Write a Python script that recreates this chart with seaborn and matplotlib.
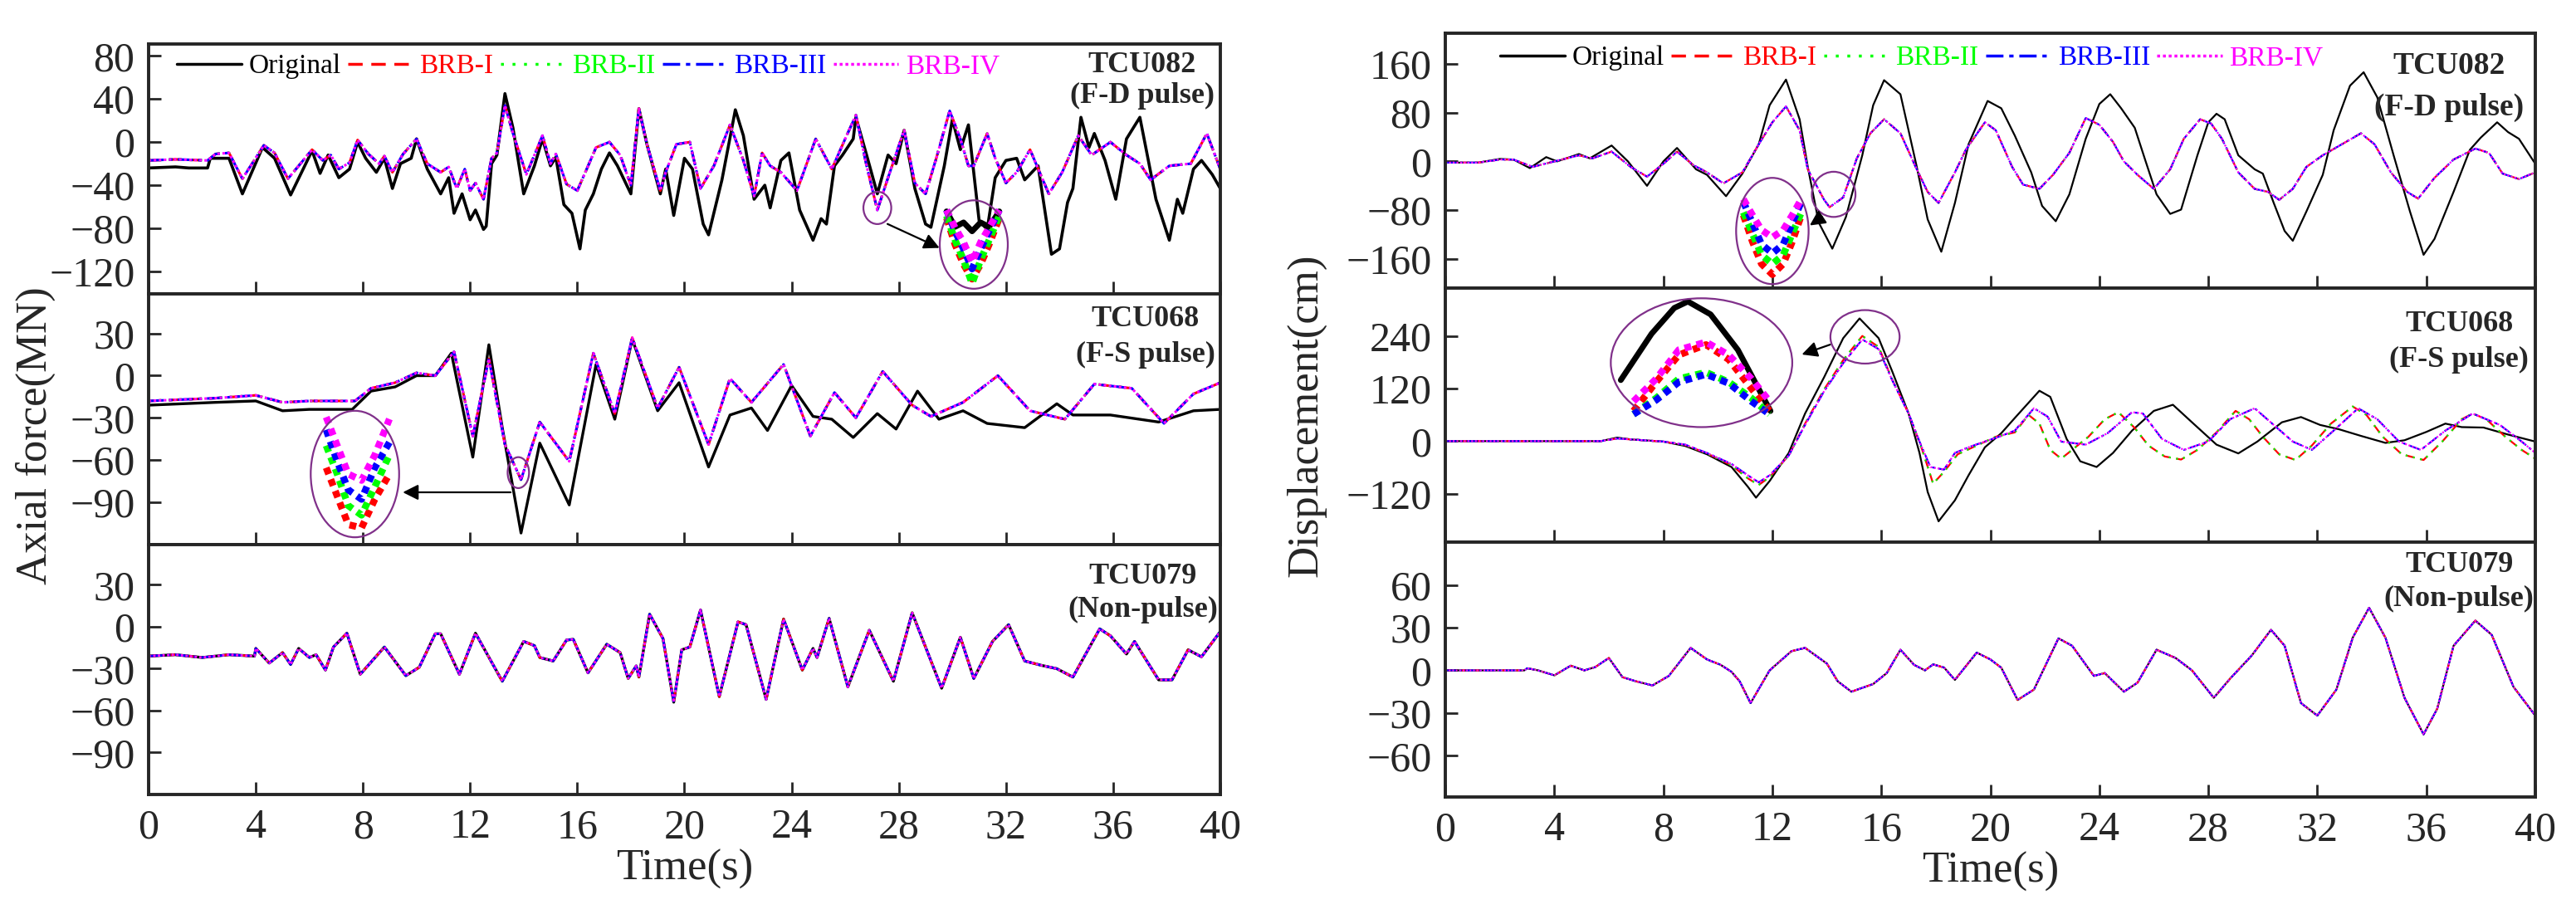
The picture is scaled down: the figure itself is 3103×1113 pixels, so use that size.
import matplotlib
matplotlib.use("Agg")
import matplotlib.pyplot as plt
from matplotlib.patches import Ellipse
import seaborn as sns

# ---------------- data ----------------
# left column: axial force (MN)
lt_orig_t = [0, 1, 1.5, 2.2, 2.3, 3.0, 3.5, 4.25, 4.7, 5.3, 6.1, 6.4, 6.7, 7.1, 7.5, 7.8, 8.1, 8.5, 8.8, 9.1,
             9.4, 9.8, 10.0, 10.4, 10.9, 11.2, 11.4, 11.7, 12.0, 12.2, 12.5, 12.6, 12.8, 13.0, 13.3, 13.6, 14.0,
             14.4, 14.7, 15.0, 15.2, 15.5, 15.8, 16.1, 16.3, 16.6, 16.9, 17.2, 17.5, 18.0, 18.3, 18.6, 19.1,
             19.3, 19.6, 20.0, 20.3, 20.7, 20.9, 21.4, 21.9, 22.2, 22.6, 23.0, 23.2, 23.6, 23.9, 24.3, 24.8,
             25.1, 25.3, 25.6, 25.9, 26.3, 26.4, 26.8, 27.2, 27.6, 27.9, 28.2, 28.6, 29.0, 29.2, 29.7, 30.0,
             30.3, 30.6, 31.0, 31.3, 31.6, 32.0, 32.4, 32.7, 33.2, 33.7, 34.0, 34.3, 34.5, 34.8, 35.1, 35.3,
             35.7, 36.1, 36.5, 37.0, 37.6, 38.1, 38.4, 38.6, 39.0, 39.3, 39.7, 40]
lt_orig_v = [-24, -23, -24, -24, -15, -15, -48, -5, -15, -49, -8, -29, -12, -33, -25, 0, -15, -28, -15, -43,
             -20, -15, 3, -25, -48, -33, -66, -48, -72, -63, -81, -78, -20, -12, 45, 13, -48,
             -22, 3, -22, -14, -58, -66, -99, -63, -48, -25, -10, -22, -48, 31, -2, -48,
             -25, -68, -15, -25, -76, -86, -35, 30, 6, -53, -40, -61, -17, -10, -63, -91,
             -71, -76, -22, -12, 3, 23, -12, -48, -12, -20, 11, -43, -76, -79, -22, 21,
             -7, 16, -73, -81, -33, -17, -15, -35, -22, -104, -99, -56, -43, 23, -5, 8,
             -17, -53, 3, 23, -53, -91, -53, -66, -25, -17, -30, -43]
lt_brb_t = [0, 1, 2.2, 2.5, 3.0, 3.5, 4.3, 4.7, 5.2, 6.1, 6.5, 6.8, 7.1, 7.5, 7.8, 8.2, 8.6, 8.8, 9.1, 9.5,
            10.0, 10.4, 10.9, 11.2, 11.5, 11.8, 12.0, 12.2, 12.5, 12.8, 13.0, 13.3, 13.6, 14.1, 14.4, 14.7,
            15.0, 15.2, 15.6, 16.0, 16.3, 16.7, 17.2, 17.6, 18.0, 18.3, 18.6, 19.1, 19.3, 19.7, 20.2, 20.6,
            21.1, 21.7, 22.2, 22.6, 22.9, 23.2, 23.6, 24.2, 24.9, 25.5, 26.0, 26.4, 26.8, 27.2, 27.6, 28.2,
            28.6, 29.0, 29.4, 29.9, 30.3, 30.6, 30.8, 31.3, 31.6, 32.0, 32.4, 32.9, 33.6, 34.1, 34.7, 35.2,
            35.9, 36.5, 37.0, 37.4, 38.1, 38.9, 39.5, 40]
lt_brb_v = [-17, -16, -17, -11, -10, -34, -3, -10, -34, -7, -17, -12, -25, -19, 2, -11, -20, -13, -28, -11,
            3, -20, -28, -23, -43, -25, -45, -38, -53, -15, -10, 34, 8, -30, -12, 6,
            -20, -11, -39, -45, -28, -5, 0, -12, -40, 31, -2, -45, -28, -2, 0, -43,
            -22, 16, -17, -50, -10, -22, -28, -45, 3, -25, 3, 25, -22, -63, -33, 11,
            -38, -48, -15, 29, 3, -22, -22, 8, -15, -38, -28, -7, -48, -28, 6, -12,
            0, -12, -20, -35, -22, -20, 8, -25]

lm_orig_t = [0, 2.5, 4, 5, 6, 7.6, 8.3, 9.2, 10, 10.7, 11.3, 12.1, 12.7, 13.2, 13.9, 14.6, 15.7, 16.7, 17.4,
             18.05, 19, 19.8, 20.9, 21.7, 22.5, 23.1, 24, 24.8, 25.5, 26.3, 27.2, 27.9, 28.7, 29.5, 30.4,
             31.3, 32.7, 33.9, 34.5, 35.9, 37.7, 39, 40]
lm_orig_v = [-21, -19, -18, -25, -24, -24, -11, -8, 0, 0, 16, -58, 22, -37, -112, -48, -92, 8, -31,
             26, -25, -5, -65, -28, -23, -39, -7, -29, -31, -44, -27, -38, -11, -31, -25,
             -34, -37, -20, -28, -28, -33, -25, -24]
lm_brb_t = [0, 2.5, 4, 5, 6, 7.7, 8.3, 9.2, 10, 10.7, 11.4, 12.1, 12.7, 13.3, 13.9, 14.6, 15.7, 16.6, 17.4,
            18.05, 19, 19.8, 20.9, 21.7, 22.5, 23.7, 24.7, 25.6, 26.4, 27.4, 28.5, 29.2, 30.4, 31.7, 32.9,
            34.2, 35.3, 36.7, 37.9, 39, 40]
lm_brb_v = [-18, -16, -14, -19, -18, -18, -9, -5, 2, 0, 17, -43, 12, -49, -74, -33, -61, 16, -27,
            27, -23, 6, -49, -2, -19, 8, -43, -12, -30, 3, -21, -29, -19, 0, -25,
            -31, -6, -9, -34, -13, -5]

lb_t = [0, 1, 2, 3, 3.95, 4, 4.5, 5.0, 5.3, 5.6, 6.0, 6.25, 6.6, 6.9, 7.4, 7.9, 8.8, 9.6, 10.1, 10.7, 10.9,
        11.6, 12.2, 13.2, 14.0, 14.4, 14.6, 15.1, 15.6, 15.85, 16.4, 17.1, 17.6, 17.9, 18.2, 18.3, 18.7,
        19.2, 19.6, 19.9, 20.2, 20.6, 21.3, 22.0, 22.3, 23.05, 23.7, 24.4, 24.8, 24.95, 25.4, 26.1, 26.9,
        27.8, 28.5, 29.6, 30.3, 30.8, 31.5, 32.1, 32.7, 33.3, 33.9, 34.5, 35.5, 35.9, 36.5, 36.8, 37.7,
        38.2, 38.8, 39.3, 40]
lb_v = [-21, -20, -22, -20, -21, -15.5, -26, -18.5, -27, -15.5, -22, -20, -31, -14.5, -4.6, -34, -14.5, -35,
        -29, -5, -5, -34, -4.6, -39, -10.5, -13.5, -22, -24.5, -9.5, -9, -33, -12.5, -18.5, -37, -28, -36, 9,
        -8.5, -54, -16.5, -14.5, 12, -50, 3.5, 1.5, -52, 5.5, -31, -15.5, -22, 6, -43, -2.5,
        -39, 10, -44, -7.5, -37, -10.5, 1.5, -24.5, -27.5, -30, -36, -1.5, -6.5, -19.5, -10.5, -38,
        -38, -16.5, -21.5, -3.5]

# right column: displacement (cm)
rt_orig_t = [0, 1.2, 2.0, 2.5, 3.1, 3.7, 4.1, 4.9, 5.3, 6.1, 6.7, 7.4, 8.0, 8.5, 9.2, 9.6, 10.3, 10.9, 11.5,
             11.9, 12.5, 13.0, 13.3, 13.7, 14.2, 14.7, 15.3, 15.7, 16.1, 16.7, 17.3, 17.7, 18.2, 18.7, 19.2,
             19.9, 20.4, 20.9, 21.5, 21.9, 22.4, 22.9, 23.5, 24.0, 24.4, 24.8, 25.3, 25.7, 26.1, 26.6, 27.0,
             27.6, 28.0, 28.3, 28.6, 29.1, 29.7, 30.0, 30.4, 30.8, 31.1, 31.6, 32.2, 32.6, 33.2, 33.7, 34.2,
             34.8, 35.4, 35.9, 36.3, 37.0, 37.6, 38.0, 38.6, 39.0, 39.4, 40]
rt_orig_v = [-2, -2, 4, 3, -11, 7, 0, 12, 5, 26, 0, -40, 0, 22, -13, -22, -57, -20, 28,
             92, 134, 69, -9, -100, -143, -91, 10, 92, 133, 110, -9, -95, -148, -68, 28,
             99, 87, 42, -18, -73, -98, -54, 37, 94, 110, 87, 55, 0, -54, -86, -79,
             10, 64, 78, 69, 10, -13, -20, -68, -114, -130, -82, -22, 51, 124, 146, 105,
             10, -82, -153, -127, -50, 19, 39, 64, 48, 37, -4]
rt_brb_t = [0, 1.2, 2.0, 2.5, 3.2, 4.0, 4.9, 5.4, 6.1, 6.8, 7.4, 8.0, 8.5, 9.1, 9.6, 10.2, 10.9, 11.5, 12.0,
            12.5, 13.0, 13.3, 13.9, 14.1, 14.6, 15.1, 15.6, 16.1, 16.7, 17.3, 17.7, 18.1, 18.7, 19.1, 19.8,
            20.2, 20.8, 21.2, 21.8, 22.3, 22.9, 23.5, 24.0, 24.5, 24.9, 25.4, 26.0, 26.6, 27.1, 27.7, 28.1,
            28.5, 29.1, 29.7, 30.2, 30.6, 31.1, 31.6, 32.2, 32.9, 33.6, 34.1, 34.7, 35.3, 35.7, 36.3, 37.0,
            37.8, 38.3, 38.8, 39.4, 40]
rt_brb_v = [-2, -2, 3, 3, -9, 0, 10, 5, 16, -9, -25, -4, 16, -6, -18, -36, -18, 28, 64,
            90, 51, -13, -63, -75, -59, 5, 46, 69, 46, -13, -50, -68, -18, 19, 64,
            51, -9, -38, -45, -22, 14, 71, 60, 32, 0, -22, -45, -13, 37, 69, 62,
            37, -18, -45, -50, -63, -45, -9, 10, 28, 46, 28, -18, -50, -61, -27, 3,
            21, 14, -20, -29, -18]

rm_orig_t = [0, 3, 5.7, 6.3, 6.8, 8.0, 8.8, 9.6, 10.5, 11.1, 11.4, 11.9, 12.6, 13.2, 13.9, 14.6, 15.2, 15.9,
             16.4, 17.0, 17.4, 17.7, 18.1, 18.7, 19.2, 19.8, 20.4, 20.9, 21.8, 22.2, 22.8, 23.3, 23.9, 24.5,
             25.2, 26.0, 26.7, 27.4, 28.3, 29.1, 29.8, 30.7, 31.4, 32.1, 32.8, 33.6, 34.5, 35.2, 36.0, 36.7,
             37.3, 38.1, 39.0, 40]
rm_orig_v = [0, 0, 0, 8, 4, -1, -11, -30, -59, -104, -129, -91, -27, 63, 146, 235, 280, 235,
             159, 63, -27, -116, -183, -135, -78, -14, 18, 53, 115, 101, 5, -46, -59, -27,
             24, 69, 83, 43, -8, -28, -1, 43, 55, 37, 27, 12, -4, 2, 21, 40,
             32, 31, 15, -1]
rm_brb12_t = [0, 3, 5.7, 6.3, 8.0, 8.8, 9.6, 10.5, 11.1, 11.5, 11.9, 12.6, 13.2, 13.9, 14.6, 15.3, 15.9, 16.4,
              17.0, 17.5, 17.9, 18.3, 18.8, 19.5, 20.2, 20.9, 21.4, 21.8, 22.2, 22.6, 23.0, 23.6, 24.2, 24.7,
              25.3, 25.8, 26.4, 27.0, 27.6, 28.3, 29.0, 29.5, 30.0, 30.6, 31.2, 31.8, 32.5, 33.3, 33.8, 34.4,
              35.1, 35.9, 36.6, 37.3, 37.7, 38.2, 38.9, 39.5, 40]
rm_brb12_v = [0, 0, 0, 6, -1, -9, -28, -55, -85, -100, -82, -33, 40, 118, 185, 240, 215, 140,
              63, -20, -97, -70, -30, -10, 10, 20, 60, 40, -20, -40, -20, 10, 50, 66,
              30, -10, -35, -42, -20, 20, 69, 50, 10, -30, -43, -10, 40, 79, 60, 10,
              -30, -43, 0, 50, 63, 50, 10, -20, -40]
rm_brb34_t = [0, 3, 5.7, 6.3, 8.0, 8.8, 9.6, 10.5, 11.1, 11.5, 11.9, 12.6, 13.2, 13.9, 14.6, 15.3, 15.9, 16.4,
              17.0, 17.4, 17.8, 18.3, 18.7, 19.2, 19.8, 20.4, 20.9, 21.6, 22.1, 22.6, 23.5, 24.3, 25.2, 25.6,
              26.3, 27.1, 28.0, 28.8, 29.7, 30.4, 31.1, 31.8, 32.6, 33.5, 34.2, 35.0, 35.8, 36.7, 37.7, 38.7,
              39.5, 40]
rm_brb34_v = [0, 0, 0, 6, -1, -8, -27, -52, -78, -94, -78, -33, 37, 114, 178, 232, 210, 139,
              63, -1, -59, -65, -27, -14, -1, 12, 24, 75, 56, -1, -8, 18, 66, 63,
              5, -20, -1, 50, 75, 37, -1, -20, 24, 75, 50, -1, -20, 24, 63, 37,
              -1, -27]

rb_t = [0, 1.5, 2.9, 3.0, 3.4, 4.0, 4.6, 5.1, 5.5, 6.0, 6.5, 7.0, 7.6, 8.2, 9.0, 9.6, 10.1, 10.5, 10.8, 11.2,
        11.9, 12.7, 13.2, 14.0, 14.4, 14.9, 15.7, 16.2, 16.7, 17.2, 17.6, 17.9, 18.3, 18.7, 19.5, 20.0, 20.4,
        21.0, 21.6, 22.5, 23.0, 23.8, 24.2, 24.9, 25.4, 26.1, 26.8, 27.4, 28.2, 28.8, 29.6, 30.3, 30.8, 31.4,
        32.0, 32.7, 33.3, 33.9, 34.5, 35.2, 35.9, 36.4, 37.0, 37.8, 38.4, 39.2, 40]
rb_v = [0, 0, 0, 1.5, 0, -3.5, 3.3, 0, 2.3, 8.7, -4.8, -7.7, -10.6, -3.9, 15.8, 7.7, 3.9, -1, -7.7, -23,
        0, 13.5, 15.8, 4.8, -7.7, -15, -9.6, -1.9, 14.5, 3.9, 0, 4.2, 2, -6.7, 12.5, 7.7, 1.9,
        -20.8, -13.5, 22.5, 17.3, -3.9, -1.9, -15, -8.7, 14.5, 8.7, 0, -19.3, -5.8, 10.6, 28.5, 17.3, -23,
        -31.8, -13.5, 23, 44, 23, -19.3, -45, -27, 17.3, 35, 25, -11.6, -31.8]

# magnified views inside the big ellipses (local -1..1 coordinates)
insA_x = [-0.8, -0.55, -0.3, -0.05, 0.2, 0.45, 0.75]
insA_orig = [0.75, 0.4, 0.5, 0.3, 0.5, 0.4, 0.75]
insA_brb = {"BRB-I": [0.6, 0.0, -0.45, -0.78, -0.45, 0.0, 0.6],
            "BRB-II": [0.65, 0.1, -0.35, -0.88, -0.35, 0.1, 0.65],
            "BRB-III": [0.78, 0.3, -0.1, -0.55, -0.1, 0.3, 0.78],
            "BRB-IV": [0.78, 0.38, 0.05, -0.4, 0.05, 0.38, 0.78]}
insB_x = [-0.65, -0.4, -0.15, 0.15, 0.45, 0.78]
insB_brb = {"BRB-I": [0.1, -0.35, -0.8, -0.85, -0.4, 0.0],
            "BRB-II": [0.45, 0.0, -0.5, -0.65, -0.2, 0.3],
            "BRB-III": [0.7, 0.2, -0.25, -0.4, 0.1, 0.5],
            "BRB-IV": [0.9, 0.45, 0.0, -0.1, 0.3, 0.87]}
insC_x = [-0.8, -0.55, -0.3, 0.0, 0.3, 0.55, 0.8]
insC_brb = {"BRB-I": [0.3, -0.2, -0.62, -0.82, -0.62, -0.2, 0.3],
            "BRB-II": [0.35, -0.05, -0.45, -0.62, -0.45, -0.05, 0.35],
            "BRB-III": [0.55, 0.15, -0.25, -0.42, -0.25, 0.15, 0.55],
            "BRB-IV": [0.6, 0.3, 0.02, -0.12, 0.02, 0.3, 0.6]}
insD_orig_x = [-0.89, -0.55, -0.3, -0.15, 0.1, 0.4, 0.76]
insD_orig = [-0.27, 0.45, 0.85, 0.95, 0.75, 0.2, -0.75]
insD_x = [-0.75, -0.5, -0.25, 0.05, 0.3, 0.55, 0.75]
insD_brb = {"BRB-I": [-0.75, -0.3, 0.12, 0.28, 0.05, -0.4, -0.75],
            "BRB-II": [-0.8, -0.55, -0.25, -0.15, -0.3, -0.55, -0.8],
            "BRB-III": [-0.8, -0.58, -0.3, -0.18, -0.32, -0.6, -0.8],
            "BRB-IV": [-0.6, -0.25, 0.2, 0.32, 0.12, -0.25, -0.6]}

names = ["Original", "BRB-I", "BRB-II", "BRB-III", "BRB-IV"]
colors = {"Original": "black", "BRB-I": "#ff0000", "BRB-II": "#00ff00", "BRB-III": "#0000ff", "BRB-IV": "#ff00ff"}
styles = {"Original": "-", "BRB-I": (0, (5, 3)), "BRB-II": (0, (1, 3)),
          "BRB-III": (0, (6, 2, 1.5, 2)), "BRB-IV": (0, (1, 1))}

# ---------------- plotting ----------------
sns.set_style("ticks")
plt.rcParams["font.family"] = ["Liberation Serif", "DejaVu Serif"]
plt.rcParams["axes.unicode_minus"] = True
ELL = "#80308a"

fig = plt.figure(figsize=(31.03, 11.13), dpi=100)
gl = fig.add_gridspec(3, 1, left=0.0577, right=0.4737, bottom=0.1402, top=0.9524, hspace=0)
gr = fig.add_gridspec(3, 1, left=0.5611, right=0.9842, bottom=0.1375, top=0.9641, hspace=0)
axl = [fig.add_subplot(gl[i]) for i in range(3)]
axr = [fig.add_subplot(gr[i]) for i in range(3)]


def draw(ax, series, lw_o, lw_b, label=False):
    for name in names:
        t, v = series[name]
        sns.lineplot(x=t, y=v, ax=ax, color=colors[name], linestyle=styles[name],
                     lw=lw_o if name == "Original" else lw_b, estimator=None, sort=False,
                     label=name if label else None)
    if ax.get_legend() is not None:
        ax.get_legend().remove()


def style(ax, ylim, yticks, bottom=False):
    ax.set_xlim(0, 40)
    ax.set_ylim(*ylim)
    ax.set_xticks(range(0, 41, 4))
    ax.set_yticks(yticks)
    ax.tick_params(direction="in", length=11, width=2, labelsize=36, top=False, right=False,
                   labelbottom=bottom, pad=12)
    for s in ax.spines.values():
        s.set_linewidth(2.8)
    ax.set_xlabel("Time(s)" if bottom else "", fontsize=38, labelpad=2)
    ax.set_ylabel("")


def tag(ax, txt, x, y, ls, fs=26):
    ax.text(x, y, txt, transform=ax.transAxes, ha="center", va="center", fontsize=fs,
            fontweight="bold", linespacing=ls, multialignment="center")


def ellipse(ax, cx, cy, hw, hh, lw=1.6):
    ax.add_patch(Ellipse((cx, cy), 2 * hw, 2 * hh, fill=False, edgecolor=ELL, lw=lw, zorder=6))


def inset(ax, cx, cy, hw, hh, x, brb, ox=None, orig=None):
    ins = ax.inset_axes([cx - hw, cy - hh, 2 * hw, 2 * hh], transform=ax.transData)
    ins.set_xlim(-1, 1)
    ins.set_ylim(-1, 1)
    ins.axis("off")
    ins.patch.set_alpha(0)
    if orig is not None:
        ins.plot(ox, orig, color="black", lw=5)
    for name in ["BRB-I", "BRB-II", "BRB-III", "BRB-IV"]:
        ins.plot(x, brb[name], color=colors[name], lw=6, linestyle=(0, (1, 0.8)))
    ellipse(ax, cx, cy, hw, hh)


def legend(ax, x, y):
    leg = ax.legend(loc="center left", bbox_to_anchor=(x, y), ncol=5, frameon=False, fontsize=24,
                    handlelength=2.35, handletextpad=0.25, columnspacing=0.25, borderaxespad=0,
                    borderpad=0)
    for txt, name in zip(leg.get_texts(), names):
        txt.set_color(colors[name])
    for h in leg.get_lines():
        h.set_linewidth(2.5)


def arrow(ax, tail, head):
    ax.annotate("", xy=head, xytext=tail,
                arrowprops=dict(arrowstyle="-|>", color="black", lw=1.6, mutation_scale=28), zorder=7)


# left column
draw(axl[0], {"Original": (lt_orig_t, lt_orig_v), "BRB-I": (lt_brb_t, lt_brb_v), "BRB-II": (lt_brb_t, lt_brb_v),
              "BRB-III": (lt_brb_t, lt_brb_v), "BRB-IV": (lt_brb_t, lt_brb_v)}, 2.6, 2.2, label=True)
draw(axl[1], {"Original": (lm_orig_t, lm_orig_v), "BRB-I": (lm_brb_t, lm_brb_v), "BRB-II": (lm_brb_t, lm_brb_v),
              "BRB-III": (lm_brb_t, lm_brb_v), "BRB-IV": (lm_brb_t, lm_brb_v)}, 2.4, 2.2)
draw(axl[2], {n: (lb_t, lb_v) for n in names}, 2.4, 2.0)
style(axl[0], (-141, 91), range(-120, 81, 40))
style(axl[1], (-120, 58), range(-90, 31, 30))
style(axl[2], (-120, 59), range(-90, 31, 30), bottom=True)
legend(axl[0], 0.026, 0.91)
tag(axl[0], "TCU082\n(F-D pulse)", 0.927, 0.855, 1.15)
tag(axl[1], "TCU068\n(F-S pulse)", 0.93, 0.827, 1.4)
tag(axl[2], "TCU079\n(Non-pulse)", 0.928, 0.805, 1.25)

ellipse(axl[0], 27.2, -61, 0.52, 15)
inset(axl[0], 30.8, -95, 1.27, 41, insA_x, insA_brb, insA_x, insA_orig)
arrow(axl[0], (27.5, -75), (29.6, -99))
ellipse(axl[1], 13.8, -69, 0.4, 11)
inset(axl[1], 7.7, -70, 1.65, 45, insB_x, insB_brb)
arrow(axl[1], (13.6, -83), (9.4, -83))

# right column
draw(axr[0], {"Original": (rt_orig_t, rt_orig_v), "BRB-I": (rt_brb_t, rt_brb_v), "BRB-II": (rt_brb_t, rt_brb_v),
              "BRB-III": (rt_brb_t, rt_brb_v), "BRB-IV": (rt_brb_t, rt_brb_v)}, 1.6, 1.6, label=True)
draw(axr[1], {"Original": (rm_orig_t, rm_orig_v), "BRB-I": (rm_brb12_t, rm_brb12_v),
              "BRB-II": (rm_brb12_t, rm_brb12_v), "BRB-III": (rm_brb34_t, rm_brb34_v),
              "BRB-IV": (rm_brb34_t, rm_brb34_v)}, 1.6, 1.6)
draw(axr[2], {n: (rb_t, rb_v) for n in names}, 1.6, 1.5)
style(axr[0], (-207, 210), range(-160, 161, 80))
style(axr[1], (-231, 350), range(-120, 241, 120))
style(axr[2], (-89, 90), range(-60, 61, 30), bottom=True)
legend(axr[0], 0.05, 0.902)
tag(axr[0], "TCU082\n(F-D pulse)", 0.921, 0.79, 1.55, fs=27)
tag(axr[1], "TCU068\n(F-S pulse)", 0.93, 0.788, 1.4)
tag(axr[2], "TCU079\n(Non-pulse)", 0.93, 0.844, 1.3)

ellipse(axr[0], 14.25, -54, 0.8, 37)
inset(axr[0], 12.0, -114, 1.33, 87, insC_x, insC_brb)
arrow(axr[0], (13.9, -89), (13.3, -107))
ellipse(axr[1], 15.4, 238, 1.27, 61)
inset(axr[1], 9.4, 179, 3.33, 147, insD_x, insD_brb, insD_orig_x, insD_orig)
arrow(axr[1], (14.2, 222), (13.0, 196))

fig.text(43 / 3103, 1 - 525 / 1113, "Axial force(MN)", rotation=90, ha="center", va="center", fontsize=38)
fig.text(1573 / 3103, 1 - 500 / 1113, "Displacement(cm)", rotation=90, ha="center", va="center", fontsize=38)

fig.savefig("out.png", dpi=100)
